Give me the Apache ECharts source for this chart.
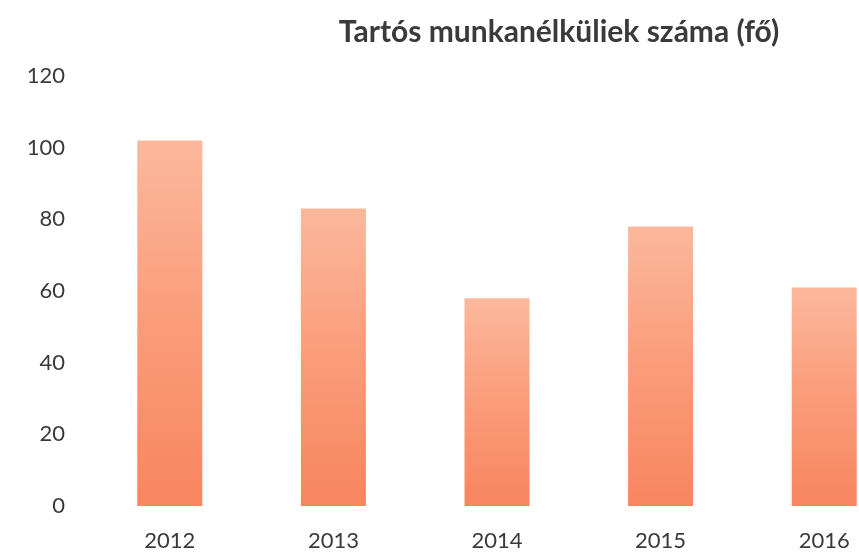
<!DOCTYPE html>
<html>
<head>
<meta charset="utf-8">
<script src="https://cdn.jsdelivr.net/npm/echarts@6/dist/echarts.min.js"></script>
<style>
  html, body { margin: 0; padding: 0; background: #fff; }
  #main { width: 859px; height: 552px; }
</style>
</head>
<body>
<div id="main"></div>
<script>
// adatok
var years = ['2012', '2013', '2014', '2015', '2016'];
var values = [102, 83, 58, 78, 61];
var yTicks = [0, 20, 40, 60, 80, 100, 120];

var chart = echarts.init(document.getElementById('main'));
var option = {
  backgroundColor: '#fff',
  title: {
    text: 'Tartós munkanélküliek száma (fő)',
    left: 554,
    textAlign: 'center',
    top: 12,
    textStyle: { fontFamily: 'Lato', fontSize: 30, fontWeight: 'bold', color: '#3a3a3a' }
  },
  grid: { left: 88, top: 76, bottom: 46, width: 818, outerBoundsMode: 'none', containLabel: false },
  xAxis: {
    type: 'category',
    data: years,
    axisLine: { show: false },
    axisTick: { show: false },
    axisLabel: { fontFamily: 'Lato', fontSize: 22, color: '#3a3a3a', margin: 24 }
  },
  yAxis: {
    type: 'value',
    min: yTicks[0],
    max: yTicks[yTicks.length - 1],
    interval: 20,
    splitLine: { show: false },
    axisLine: { show: false },
    axisTick: { show: false },
    axisLabel: { fontFamily: 'Lato', fontSize: 22, color: '#3a3a3a', margin: 23 }
  },
  series: [{
    type: 'bar',
    data: values,
    barWidth: 65,
    itemStyle: {
      color: new echarts.graphic.LinearGradient(0, 0, 0, 1, [
        { offset: 0, color: '#fcb89c' },
        { offset: 0.5, color: '#fa9c7a' },
        { offset: 1, color: '#f8855f' }
      ])
    }
  }]
};
chart.setOption(option);
</script>
</body>
</html>
